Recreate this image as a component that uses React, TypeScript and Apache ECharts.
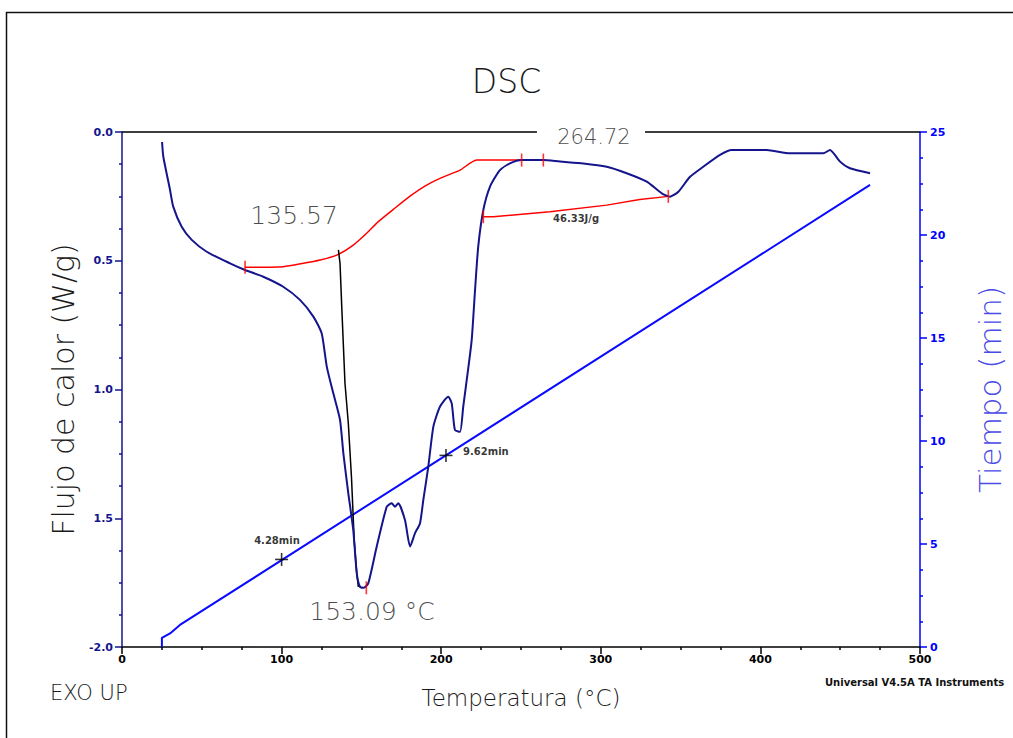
import React, { useEffect, useRef } from "react";
import * as echarts from "echarts";

// DSC curve: temperature (°C) vs heat flow (W/g)
const temperature = [25.1, 25.9, 30.1, 32.1, 37.4, 43.7, 53.1, 67.7, 77.1, 88.5, 101.0, 111.5, 119.9, 125.1, 128.3, 132.4, 136.6, 138.7, 141.8, 144.9, 147.1, 149.1, 151.5, 154.3, 159.6, 165.9, 169.0, 171.1, 173.1, 177.3, 180.5, 183.6, 186.7, 188.8, 191.9, 195.1, 199.2, 204.4, 206.6, 208.6, 211.8, 213.8, 216.0, 219.1, 221.2, 223.2, 226.4, 230.6, 236.8, 243.1, 250.4, 264.0, 274.4, 289.0, 303.7, 316.2, 328.8, 338.2, 343.4, 348.6, 355.9, 364.2, 374.7, 382.0, 403.9, 418.5, 439.4, 443.6, 449.9, 456.1, 468.7];
const heatFlow = [-0.039, -0.096, -0.225, -0.29, -0.368, -0.419, -0.465, -0.51, -0.536, -0.562, -0.601, -0.652, -0.717, -0.782, -0.911, -1.015, -1.118, -1.248, -1.403, -1.546, -1.714, -1.766, -1.77, -1.753, -1.61, -1.455, -1.442, -1.455, -1.442, -1.507, -1.61, -1.558, -1.52, -1.429, -1.3, -1.144, -1.067, -1.028, -1.054, -1.157, -1.164, -1.067, -0.963, -0.808, -0.614, -0.445, -0.303, -0.212, -0.148, -0.122, -0.109, -0.109, -0.115, -0.122, -0.135, -0.16, -0.193, -0.238, -0.251, -0.232, -0.174, -0.135, -0.089, -0.07, -0.07, -0.083, -0.083, -0.07, -0.115, -0.141, -0.16];

// Sigmoidal baseline (red)
const baseTemp = [77.1, 101.1, 113.6, 124.1, 134.5, 144.9, 153.3, 160.6, 171.1, 180.5, 189.8, 199.2, 211.8, 222.2, 249.4, 264.0];
const baseFlow = [-0.525, -0.523, -0.51, -0.497, -0.478, -0.439, -0.393, -0.348, -0.295, -0.249, -0.21, -0.18, -0.148, -0.109, -0.109, -0.109];

// Integration baseline of second event (red)
const base2Temp = [226.4, 232.6, 268.1, 303.7, 324.4, 342.3];
const base2Flow = [-0.329, -0.329, -0.31, -0.284, -0.262, -0.25];

// Tangent line (black)
const tanTemp = [135.6, 136.6, 137.7, 139.7, 141.8, 143.8, 145.5, 147.1, 148.1];
const tanFlow = [-0.458, -0.51, -0.68, -0.975, -1.131, -1.343, -1.586, -1.714, -1.767];

// Time vs temperature (blue, right axis)
const timeTemp = [25.0, 25.0, 30.1, 36.3, 468.7];
const timeMin = [0.0, 0.44, 0.66, 1.07, 22.43];

// Time markers
const markTemp = [100, 203];
const markTime = [4.25, 9.3];
const markLabels = ["4.28min", "9.62min"];

// Red tick markers on curves
const tickTemp = [77.1, 250.4, 264.0, 226.4, 342.3, 153.09];
const tickFlow = [-0.525, -0.109, -0.109, -0.329, -0.25, -1.77];

// Annotation texts
const annoText = ["135.57", "153.09 °C", "264.72", "46.33J/g"];
const annoTemp = [107.8, 156.6, 295.7, 284.5];
const annoFlow = [-0.326, -1.864, -0.02, -0.336];
const annoSize = [25, 25, 21, 10];

const timeAnnoTemp = [97.1, 228.0];
const timeAnnoMin = [5.15, 9.51];

const xTicks = [0, 100, 200, 300, 400, 500];

const zip = (a: number[], b: number[]) => a.map((v, i) => [v, b[i]]);

export default function App() {
  const ref = useRef<HTMLDivElement>(null);
  useEffect(() => {
    if (!ref.current) return;
    const chart = echarts.init(ref.current, null, { renderer: "svg" });
    const font = "DejaVu Sans, sans-serif";
    const thin = 300;
    const ink = "#1a1a1a";
    const tickFont = { fontSize: 11, fontWeight: "bold" as const, fontFamily: "DejaVu Sans, sans-serif" };
    chart.setOption({
      animation: false,
      backgroundColor: "#ffffff",
      title: {
        text: "DSC",
        left: "center",
        top: 60,
        textStyle: { fontSize: 33, fontWeight: thin, color: ink, fontFamily: font },
      },
      grid: { left: 122, right: 93, top: 132, bottom: 91 },
      xAxis: {
        type: "value",
        min: xTicks[0],
        max: xTicks[xTicks.length - 1],
        interval: 100,
        name: "Temperatura (°C)",
        nameLocation: "middle",
        nameGap: 39,
        nameTextStyle: { fontSize: 23, fontWeight: thin, color: ink, fontFamily: font },
        axisLine: { show: true, onZero: false, lineStyle: { color: "#000", width: 1.5 } },
        axisTick: { show: true, inside: false, length: 7, lineStyle: { color: "#000", width: 1.5 } },
        minorTick: { show: true, splitNumber: 4, length: 3, lineStyle: { color: "#000", width: 1.5 } },
        axisLabel: { ...tickFont, color: "#000", margin: 7 },
        splitLine: { show: false },
      },
      yAxis: [
        {
          type: "value",
          min: -2,
          max: 0,
          interval: 0.5,
          position: "left",
          name: "Flujo de calor (W/g)",
          nameLocation: "middle",
          nameGap: 36,
          nameTextStyle: { fontSize: 30, fontWeight: thin, color: ink, fontFamily: font },
          axisLine: { show: true, lineStyle: { color: "#14148c", width: 1.5 } },
          axisTick: { show: true, length: 7, lineStyle: { color: "#14148c", width: 1.5 } },
          minorTick: { show: true, splitNumber: 4, length: 3, lineStyle: { color: "#14148c", width: 1.5 } },
          axisLabel: {
            ...tickFont,
            color: "#14148c",
            margin: 9,
            formatter: (v: number) => (v === -2 ? "-2.0" : Math.abs(v).toFixed(1)),
          },
          splitLine: { show: false },
        },
        {
          type: "value",
          min: 0,
          max: 25,
          interval: 5,
          position: "right",
          name: "Tiempo (min)",
          nameLocation: "middle",
          nameGap: 54,
          nameRotate: 90,
          nameTextStyle: { fontSize: 31, fontWeight: thin, color: "#4a4ae6", fontFamily: font },
          axisLine: { show: true, lineStyle: { color: "#0000ff", width: 1.5 } },
          axisTick: { show: true, length: 7, lineStyle: { color: "#0000ff", width: 1.5 } },
          minorTick: { show: true, splitNumber: 4, length: 3, lineStyle: { color: "#0000ff", width: 1.5 } },
          axisLabel: { ...tickFont, color: "#0000ff", margin: 10 },
          splitLine: { show: false },
        },
      ],
      graphic: [
        {
          type: "rect",
          shape: { x: 6.5, y: 12.5, width: 1020, height: 740 },
          style: { fill: "none", stroke: "#111", lineWidth: 1.5 },
          silent: true,
        },
        {
          type: "text",
          left: 50,
          top: 682,
          style: { text: "EXO UP", fontSize: 21, fontWeight: thin, fill: ink, fontFamily: font },
        },
        {
          type: "text",
          left: 825,
          top: 677,
          style: { text: "Universal V4.5A TA Instruments", fontSize: 10, fontWeight: "bold", fill: "#111", fontFamily: "DejaVu Sans, sans-serif" },
        },
      ],
      series: [
        {
          type: "line",
          name: "top",
          data: [[0, 0], [260, 0], null, [327.7, 0], [500, 0]].map((p) => (p ? p : ["-", "-"])),
          symbol: "none",
          clip: false,
          connectNulls: false,
          lineStyle: { color: "#000", width: 1.5 },
          silent: true,
          z: 1,
        },
        {
          type: "line",
          name: "time",
          yAxisIndex: 1,
          data: zip(timeTemp, timeMin),
          symbol: "none",
          lineStyle: { color: "#0a0aff", width: 2 },
          z: 2,
        },
        {
          type: "line",
          name: "baseline",
          data: zip(baseTemp, baseFlow),
          symbol: "none",
          smooth: 0.2,
          lineStyle: { color: "#ff0000", width: 1.5 },
          z: 3,
        },
        {
          type: "line",
          name: "baseline2",
          data: zip(base2Temp, base2Flow),
          symbol: "none",
          lineStyle: { color: "#ff0000", width: 1.5 },
          z: 3,
        },
        {
          type: "line",
          name: "tangent",
          data: zip(tanTemp, tanFlow),
          symbol: "none",
          lineStyle: { color: "#000", width: 1.5 },
          z: 4,
        },
        {
          type: "line",
          name: "DSC",
          data: zip(temperature, heatFlow),
          symbol: "none",
          smooth: 0.2,
          lineStyle: { color: "#14148c", width: 2 },
          z: 5,
        },
        {
          type: "scatter",
          name: "ticks",
          data: zip(tickTemp, tickFlow),
          symbol: "rect",
          symbolSize: [1.6, 13],
          itemStyle: { color: "#ff0000" },
          z: 6,
        },
        {
          type: "scatter",
          name: "crossH",
          yAxisIndex: 1,
          data: zip(markTemp, markTime),
          symbol: "rect",
          symbolSize: [13, 1.6],
          itemStyle: { color: "#000" },
          z: 6,
        },
        {
          type: "scatter",
          name: "crossV",
          yAxisIndex: 1,
          data: zip(markTemp, markTime),
          symbol: "rect",
          symbolSize: [1.6, 13],
          itemStyle: { color: "#000" },
          z: 6,
        },
        {
          type: "scatter",
          name: "annotations",
          data: annoText.map((t, i) => ({
            name: t,
            value: [annoTemp[i], annoFlow[i]],
            label: {
              show: true,
              position: "inside",
              formatter: t,
              fontSize: annoSize[i],
              color: i === 3 ? "#000" : ink,
              fontWeight: i === 3 ? "bold" : thin,
              fontFamily: font,
            },
          })),
          symbolSize: 0,
          silent: true,
          z: 7,
        },
        {
          type: "scatter",
          name: "timeAnnotations",
          yAxisIndex: 1,
          data: markLabels.map((t, i) => ({
            name: t,
            value: [timeAnnoTemp[i], timeAnnoMin[i]],
            label: {
              show: true,
              position: "inside",
              formatter: t,
              fontSize: 10,
              color: "#000",
              fontWeight: "bold",
              fontFamily: font,
            },
          })),
          symbolSize: 0,
          silent: true,
          z: 7,
        },
      ],
    });
    return () => chart.dispose();
  }, []);
  return (
    <div
      ref={ref}
      style={{ position: "absolute", left: 0, top: 0, width: 1013, height: 738, overflow: "hidden" }}
    />
  );
}
